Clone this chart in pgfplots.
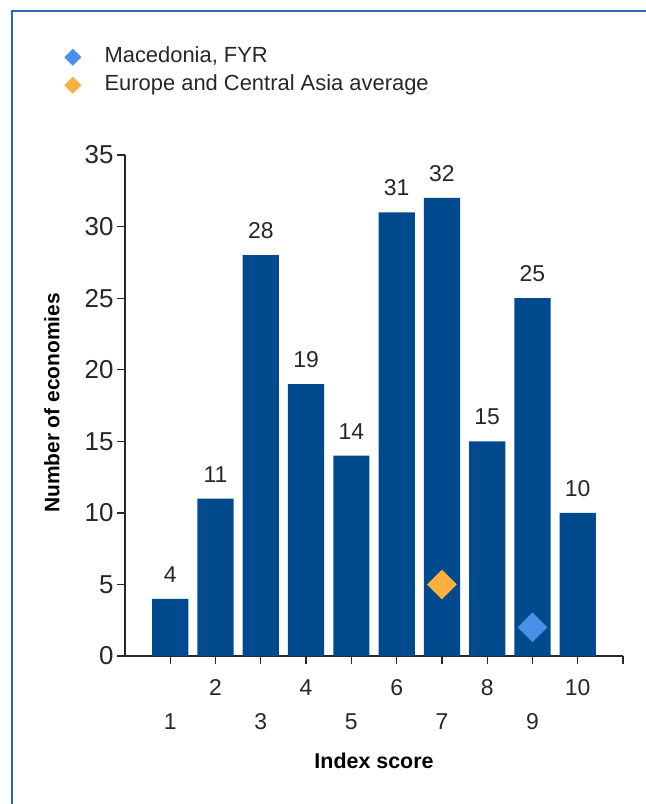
\documentclass[border=0pt]{standalone}
\usepackage{fontspec}
\setmainfont{Liberation Sans}
\usepackage{pgfplots}
\pgfplotsset{compat=1.18}

\definecolor{barblue}{RGB}{0,74,141}
\definecolor{mkblue}{RGB}{74,144,232}
\definecolor{mkorange}{RGB}{251,176,64}
\definecolor{frameblue}{RGB}{45,105,175}
\definecolor{axgray}{RGB}{40,40,40}

\begin{document}
\begin{tikzpicture}
\path[use as bounding box] (0,0) rectangle (646bp,-804bp);
\draw[frameblue, line width=2bp] (11.5bp,-810bp) -- (11.5bp,-11bp) -- (650bp,-11bp);
\begin{axis}[
    at={(125bp,-656bp)}, anchor=south west,
    scale only axis, width=498bp, height=501bp,
    xmin=0, xmax=11, ymin=0, ymax=35,
    axis x line*=bottom, axis y line*=left,
    axis line style={-, axgray, line width=1.3bp},
    tick style={axgray, line width=1.3bp},
    tick align=outside, major tick length=8bp,
    xtick={2,4,6,8,10},
    extra x ticks={1,3,5,7,9,11},
    extra x tick labels={1,3,5,7,9,{}},
    extra x tick style={xticklabel style={yshift=-34bp}},
    ytick={0,5,...,35},
    /pgf/number format/assume math mode=true,
    xticklabel style={font=\fontsize{23}{27}\selectfont, text=black!85, yshift=-12bp},
    yticklabel style={font=\fontsize{26}{30}\selectfont, text=black!85},
    xlabel={Index score},
    xlabel style={font=\bfseries\fontsize{21.5}{25}\selectfont, at={(axis description cs:0.5,-0.2096)}, anchor=center},
    ylabel={Number of economies},
    ylabel style={font=\bfseries\fontsize{21}{25}\selectfont, at={(axis description cs:-0.1466,0.505)}, anchor=center},
    clip=false,
    legend cell align=left,
    legend style={at={(-0.1215,1.2235)}, anchor=north west, draw=none, fill=none,
        inner sep=0pt, font=\fontsize{22}{26}\selectfont, text=black!85,
        /tikz/column sep=23.5bp,
        nodes={inner xsep=0pt, inner ysep=4.5bp, text height=15bp, text depth=4bp}},
    legend image code/.code={\path (-7.5bp,0bp) (7.5bp,0bp);
        \draw[#1, mark size=5.8bp] plot coordinates {(0bp,0bp)};},
]
\addplot[ybar, bar width=0.8, fill=barblue, draw=none, forget plot,
    nodes near coords,
    nodes near coords style={font=\fontsize{23}{27}\selectfont, text=black!85,
        anchor=south, inner sep=0pt, yshift=16bp}]
    coordinates {(1,4) (2,11) (3,28) (4,19) (5,14) (6,31) (7,32) (8,15) (9,25) (10,10)};

\addplot[only marks, mark=square*, mark size=10.25bp, color=mkblue,
    mark options={rotate=45, draw=mkblue, fill=mkblue}]
    coordinates {(9,2)};
\addlegendentry{Macedonia, FYR}

\addplot[only marks, mark=square*, mark size=10.25bp, color=mkorange,
    mark options={rotate=45, draw=mkorange, fill=mkorange}]
    coordinates {(7,5)};
\addlegendentry{Europe and Central Asia average}
\end{axis}
\end{tikzpicture}
\end{document}
